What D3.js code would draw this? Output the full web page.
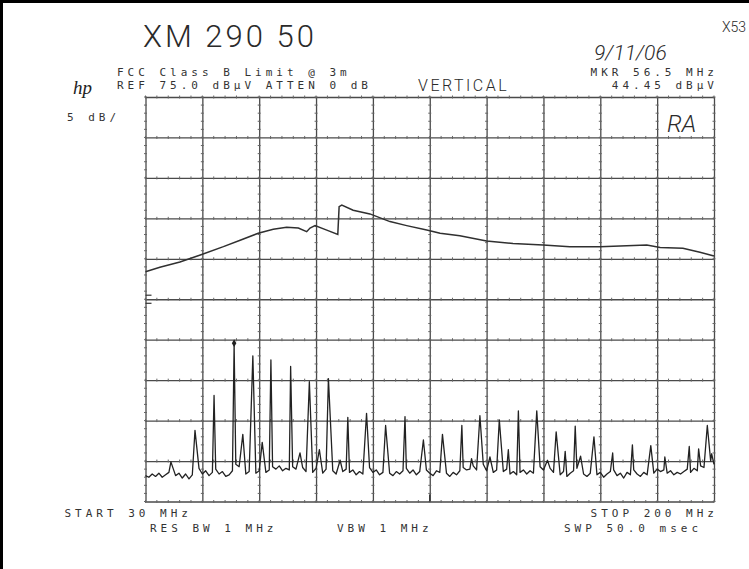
<!DOCTYPE html>
<html>
<head>
<meta charset="utf-8">
<script src="https://cdn.jsdelivr.net/npm/d3@7"></script>
<style>
  body { margin: 0; background: #fff; }
  .inst { font-family: "DejaVu Sans Mono", monospace; font-size: 11px; letter-spacing: 4px; fill: #333; }
  .hand { font-family: Roboto, sans-serif; font-weight: 300; fill: #2a2a2a; }
</style>
</head>
<body>
<div id="plot"></div>
<script>
// limit line (MHz, dBuV)
var limitMHz = [30, 34.3, 40.3, 46.6, 53.3, 58.3, 63.7, 68.2, 72.2, 75.7, 78.2, 79.2, 80.7, 84.2, 87.5,
                87.9, 88.7, 92.1, 97.1, 103.1, 108.1, 114.1, 118.1, 124.0, 132.0, 139.9, 148.9, 156.9,
                165.9, 173.9, 179.9, 183.9, 190.7, 195.8, 200];
var limitDb  = [53.4, 53.95, 54.6, 55.5, 56.5, 57.3, 58.15, 58.65, 58.9, 58.8, 58.35, 58.8, 59.1, 58.55, 58.0,
                61.45, 61.65, 61.0, 60.55, 59.6, 59.1, 58.55, 58.15, 57.85, 57.2, 56.9, 56.7, 56.5,
                56.5, 56.6, 56.7, 56.4, 56.3, 55.8, 55.35];

// emission spikes (MHz, dBuV)
var peakMHz = [37.6, 44.8, 50.5, 56.5, 59.1, 62.1, 64.9, 67.5, 73.4, 76.2, 79.0, 82.0, 84.7, 88.2,
               90.5, 96.1, 101.8, 107.6, 113.1, 118.8, 124.6, 127.5, 130.0, 133.0, 135.8, 138.5,
               141.5, 147.0, 150.2, 152.8, 155.5, 158.5, 160.1, 164.1, 169.7, 175.6, 181.1, 185.3,
               192.6, 195.4, 198.0, 199.3];
var peakDb  = [29.9, 33.8, 38.1, 44.45, 33.3, 43.0, 32.3, 42.5, 41.7, 31.0, 39.8, 31.4, 40.2, 30.1,
               35.4, 35.9, 34.4, 35.5, 32.6, 33.3, 34.4, 30.3, 35.6, 30.5, 35.1, 31.4,
               36.2, 36.2, 30.1, 33.6, 31.2, 34.3, 30.6, 33.0, 31.0, 32.0, 31.9, 30.5,
               31.8, 31.5, 34.4, 30.9];

// noise floor, one reading per MHz from 30 MHz to 200 MHz
var noiseStart = 30;
var noiseDb = [
  28.2, 28.0, 28.4, 28.1, 28.5, 28.0, 28.3, 28.6, 29.4, 28.2,
  28.5, 27.9, 28.4, 27.8, 28.3, 28.9, 29.1, 28.4, 28.8, 28.2,
  28.6, 29.0, 28.4, 28.7, 28.1, 28.3, 28.8, 29.6, 29.3, 28.9,
  28.4, 28.7, 29.0, 28.5, 28.8, 28.2, 28.6, 28.9, 29.3, 29.0,
  29.4, 28.8, 29.1, 28.9, 29.3, 29.0, 28.8, 29.2, 28.7, 29.0,
  28.6, 29.1, 28.8, 28.5, 29.0, 29.3, 28.8, 28.4, 28.0, 28.7,
  29.0, 28.6, 28.9, 28.3, 28.7, 28.4, 28.9, 29.2, 28.6, 28.9,
  28.3, 28.6, 29.0, 28.5, 28.2, 28.7, 28.4, 28.8, 29.1, 28.5,
  28.9, 28.3, 28.7, 28.4, 28.9, 28.5, 28.2, 28.8, 28.6, 29.0,
  28.5, 28.1, 28.6, 28.3, 28.8, 29.2, 28.9, 29.0, 29.4, 28.9,
  29.3, 29.6, 28.8, 29.1, 28.6, 28.9, 29.2, 28.7, 29.0, 28.4,
  28.7, 28.3, 28.6, 28.9, 28.4, 28.8, 28.5, 29.0, 29.3, 28.9,
  28.8, 29.1, 28.6, 28.9, 28.3, 28.7, 28.1, 28.5, 28.8, 29.1,
  28.7, 28.4, 28.1, 28.5, 28.9, 28.3, 28.6, 28.0, 28.4, 28.7,
  28.9, 28.2, 28.5, 27.9, 28.6, 28.3, 28.9, 28.4, 28.1, 28.6,
  28.3, 28.9, 28.5, 29.0, 28.7, 28.9, 28.5, 28.8, 28.3, 28.6,
  28.4, 28.7, 29.0, 28.6, 29.1, 28.8, 29.4, 29.2, 29.7, 30.0,
  29.6
];

var freqTicks  = [30, 47, 64, 81, 98, 115, 132, 149, 166, 183, 200];
var levelTicks = [25, 30, 35, 40, 45, 50, 55, 60, 65, 70, 75];
var displayLine = [50.5, 49.5];   // little marks on the left edge
var centerMHz = 115;
var marker = [56.5, 44.45];

var W = 749, H = 569;
var box = {left: 145.5, right: 714, top: 97, bottom: 501.5};

var svg = d3.select("#plot").append("svg")
    .attr("width", W)
    .attr("height", H);

svg.append("rect").attr("width", W).attr("height", H).attr("fill", "#fff");

// scan frame, only top and left edges show
svg.append("path")
    .attr("d", "M1.5," + H + "V1.5H" + W)
    .attr("fill", "none")
    .attr("stroke", "#000")
    .attr("stroke-width", 3);

var x = d3.scaleLinear().domain([30, 200]).range([box.left, box.right]);
var y = d3.scaleLinear().domain([25, 75]).range([box.bottom, box.top]);

// graticule
var gx = svg.append("g")
    .attr("transform", "translate(0," + box.bottom + ")")
    .call(d3.axisBottom(x).tickValues(freqTicks).tickSize(-(box.bottom - box.top)).tickSizeOuter(0).tickFormat(""));
var gy = svg.append("g")
    .attr("transform", "translate(" + box.left + ",0)")
    .call(d3.axisLeft(y).tickValues(levelTicks).tickSize(-(box.right - box.left)).tickSizeOuter(0).tickFormat(""));
[gx, gy].forEach(function(g) {
  g.select(".domain").remove();
  g.selectAll("line").attr("stroke", "#4a4a4a").attr("stroke-width", 1.3);
});

// small minor ticks along the grid lines
var minorDb = d3.range(25, 75.01, 1);
var minorMHz = d3.range(30, 200.01, 3.4);
var minor = svg.append("g").attr("stroke", "#666").attr("stroke-width", 1);
freqTicks.forEach(function(f) {
  minor.selectAll(null).data(minorDb).enter().append("line")
    .attr("x1", x(f) - 1.5).attr("x2", x(f) + 1.5)
    .attr("y1", function(d) { return y(d); }).attr("y2", function(d) { return y(d); });
});
levelTicks.forEach(function(l) {
  minor.selectAll(null).data(minorMHz).enter().append("line")
    .attr("y1", y(l) - 1.5).attr("y2", y(l) + 1.5)
    .attr("x1", function(d) { return x(d); }).attr("x2", function(d) { return x(d); });
});

// display-line marks and center tick
svg.selectAll(".dl").data(displayLine).enter().append("line")
    .attr("x1", box.left).attr("x2", box.left + 6)
    .attr("y1", function(d) { return y(d); }).attr("y2", function(d) { return y(d); })
    .attr("stroke", "#333").attr("stroke-width", 1.2);
svg.append("line")
    .attr("x1", x(centerMHz)).attr("x2", x(centerMHz))
    .attr("y1", box.bottom - 7).attr("y2", box.bottom)
    .attr("stroke", "#333").attr("stroke-width", 1.4);

var line = d3.line()
    .x(function(d) { return x(d[0]); })
    .y(function(d) { return y(d[1]); });

// limit trace
svg.append("path")
    .datum(d3.zip(limitMHz, limitDb))
    .attr("d", line)
    .attr("fill", "none")
    .attr("stroke", "#303030")
    .attr("stroke-width", 1.5);

// measured trace: noise floor plus the spikes
var peaks = d3.zip(peakMHz, peakDb);
var noise = noiseDb.map(function(v, i) { return [noiseStart + i, v]; })
    .filter(function(p) { return !peaks.some(function(q) { return Math.abs(q[0] - p[0]) < 0.3; }); });
var trace = noise.concat(peaks).sort(function(a, b) { return a[0] - b[0]; });

svg.append("path")
    .datum(trace)
    .attr("d", line)
    .attr("fill", "none")
    .attr("stroke", "#222")
    .attr("stroke-width", 1.3)
    .attr("stroke-linejoin", "round");

// marker
svg.append("path")
    .attr("d", d3.symbol().type(d3.symbolDiamond).size(18))
    .attr("transform", "translate(" + x(marker[0]) + "," + (y(marker[1]) - 1) + ")")
    .attr("fill", "#222");

// instrument annotations
var inst = [
  ["FCC Class B Limit @ 3m", 117, 76, "start"],
  ["REF  75.0 dBµV ATTEN 0 dB", 117, 89, "start"],
  ["MKR 56.5 MHz", 718, 76, "end"],
  ["44.45 dBµV", 718, 89, "end"],
  ["5 dB/", 67, 121, "start"],
  ["START 30 MHz", 64.5, 517, "start"],
  ["STOP 200 MHz", 718, 517, "end"],
  ["RES BW 1 MHz", 150, 532, "start"],
  ["VBW 1 MHz", 337, 532, "start"],
  ["SWP 50.0 msec", 564, 532, "start"]
];
svg.selectAll(".inst").data(inst).enter().append("text")
    .attr("class", "inst")
    .attr("x", function(d) { return d[1]; })
    .attr("y", function(d) { return d[2]; })
    .attr("text-anchor", function(d) { return d[3]; })
    .text(function(d) { return d[0]; });

// handwriting on the sheet
svg.append("text").attr("class", "hand").attr("x", 143).attr("y", 47)
    .style("font-size", "31px").style("letter-spacing", "3px").text("XM 290 50");
svg.append("text").attr("class", "hand").attr("x", 594).attr("y", 60)
    .style("font-size", "21px").style("font-style", "italic").text("9/11/06");
svg.append("text").attr("class", "hand").attr("x", 722).attr("y", 32)
    .style("font-size", "14px").text("X53");
svg.append("text").attr("class", "hand").attr("x", 418).attr("y", 91)
    .style("font-size", "16px").style("letter-spacing", "2.5px").text("VERTICAL");
svg.append("text").attr("class", "hand").attr("x", 667).attr("y", 132)
    .style("font-size", "24px").style("font-style", "italic").text("RA");
svg.append("text").attr("x", 73).attr("y", 94)
    .style("font-family", "'Liberation Serif', serif").style("font-style", "italic")
    .style("font-size", "19px").attr("fill", "#222").text("hp");
</script>
</body>
</html>
